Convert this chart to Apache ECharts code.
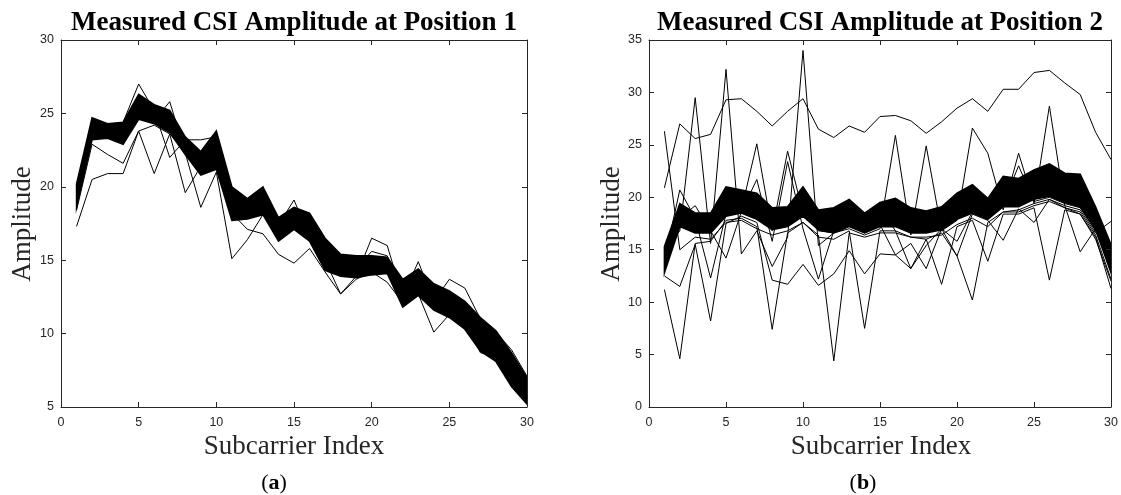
<!DOCTYPE html>
<html><head><meta charset="utf-8">
<script src="https://cdn.jsdelivr.net/npm/echarts@6/dist/echarts.min.js"></script>
<style>html,body{margin:0;padding:0;background:#fff}#c{width:1121px;height:495px}</style>
</head><body><div id="c"></div>
<script>
const subcarrier = [1,2,3,4,5,6,7,8,9,10,11,12,13,14,15,16,17,18,19,20,21,22,23,24,25,26,27,28,29,30];

// Position 1: envelope of the dense bundle of measurements
const pos1BandHigh = [20.2,24.7,24.3,24.4,26.3,25.6,25.2,23.4,22.4,23.8,20.0,19.2,20.0,17.9,18.6,18.2,16.5,15.4,15.3,15.3,15.2,13.7,14.4,13.4,12.9,12.2,11.1,10.2,8.7,7.0];
const pos1BandLow  = [18.6,23.2,23.3,22.9,24.6,24.3,23.7,22.2,20.8,21.2,17.7,17.8,18.1,16.3,17.1,16.3,14.3,13.9,13.8,14.0,14.1,11.8,12.6,11.6,11.1,10.3,8.8,8.1,6.4,5.2];
// Position 1: individual deviating measurements
const pos1LineA = [17.3,20.5,20.9,20.9,23.8,24.2,23.6,22.5,21.2,21.6,18.0,17.9,18.3,16.5,17.3,16.4,14.5,14.0,14.0,14.2,14.3,12.0,12.7,11.7,11.2,10.4,8.9,8.2,6.5,5.3];
const pos1LineB = [18.4,22.9,22.2,21.6,23.8,20.9,23.6,19.6,21.4,21.3,18.2,17.1,16.8,15.4,14.8,15.8,14.2,12.7,13.7,14.2,13.5,12.1,12.7,10.1,11.3,10.5,9.0,8.2,6.6,5.4];
const pos1LineC = [19.6,24.0,23.9,24.4,27.0,25.2,22.0,23.2,23.2,23.4,19.6,18.6,19.0,17.4,19.1,16.6,15.0,12.7,13.9,16.5,16.0,12.5,14.9,12.2,13.7,13.1,11.0,10.1,8.9,7.1];
const pos1LineD = [19.0,23.6,23.5,23.0,24.8,24.5,25.8,22.3,18.6,21.0,15.1,16.4,18.1,17.5,17.8,16.6,15.5,14.5,14.4,15.6,15.3,13.0,13.3,12.4,11.8,11.0,8.7,8.4,7.0,5.7];

// Position 2: envelope of the dense bundle of measurements
const pos2BandHigh = [15.3,19.4,18.5,18.5,21.0,20.7,20.4,19.0,19.1,21.0,18.8,19.0,19.8,18.5,19.5,19.9,19.0,18.7,19.1,20.4,21.2,19.9,22.0,21.8,22.6,23.2,22.3,22.2,19.1,15.5];
const pos2BandLow  = [12.8,17.2,16.6,16.6,18.2,18.5,17.9,16.9,17.2,18.2,16.9,16.6,17.2,16.6,17.2,17.2,16.6,16.6,16.9,17.9,18.5,17.9,19.1,19.1,19.8,20.1,19.5,19.1,16.9,12.8];
// Position 2: individual deviating measurements
const pos2LineA = [20.9,27.0,25.6,26.0,29.3,29.4,28.2,26.8,28.2,29.4,26.5,25.7,26.8,26.2,27.7,27.8,27.3,26.1,27.2,28.5,29.4,28.2,30.3,30.3,31.9,32.1,30.9,29.8,26.2,23.6];
const pos2LineB = [26.3,15.0,16.2,16.0,17.6,17.8,17.0,16.4,16.8,17.6,16.4,4.4,16.6,16.2,16.6,16.6,16.2,16.2,16.4,17.4,18.0,17.2,18.6,18.6,19.2,19.6,19.0,18.6,16.4,12.2];
const pos2LineC = [11.2,4.6,15.6,15.8,17.8,18.0,17.2,7.4,16.6,17.6,16.2,16.0,16.8,7.5,16.8,16.8,16.2,16.0,11.7,17.2,17.8,13.9,18.4,18.4,19.0,12.1,18.8,18.4,16.2,11.3];
const pos2LineD = [12.5,11.5,15.5,8.2,17.5,18.2,17.6,12.1,11.7,13.6,11.6,12.7,14.9,12.7,14.6,14.5,13.2,16.0,16.6,14.4,10.2,17.6,18.6,18.8,19.4,19.8,19.0,18.4,16.0,12.0];
const pos2LineE = [15.0,16.8,29.5,15.6,32.2,14.6,16.8,13.4,16.2,34.0,15.4,16.6,17.0,16.4,17.0,25.9,16.4,24.9,16.8,17.8,26.6,24.2,18.8,24.2,19.4,28.7,19.2,18.8,16.6,17.7];
const pos2LineF = [14.0,20.7,18.0,12.3,18.4,18.8,25.1,16.8,24.4,18.5,16.8,16.6,17.4,16.6,19.1,16.8,13.2,15.4,17.0,15.8,18.6,18.0,19.4,23.0,19.6,20.0,19.4,19.0,16.8,13.2];
const pos2LineG = [13.2,18.0,19.2,16.8,14.2,18.6,21.7,15.8,23.4,17.0,12.2,16.8,17.4,16.8,17.4,14.5,15.6,13.2,17.0,14.4,18.4,17.8,15.9,18.9,17.6,19.8,19.2,14.8,17.0,13.0];

const titles = ['Measured CSI Amplitude at Position 1', 'Measured CSI Amplitude at Position 2'];
const xName = 'Subcarrier Index';
const yName = 'Amplitude';
const panelTags = ['a', 'b'];

const pairs = (ys) => subcarrier.map((x, i) => [x, ys[i]]);

const axisColor = '#262626';
const labelFont = { fontFamily: 'Liberation Sans, Arial, sans-serif', fontSize: 12.5, color: axisColor };

function xAxes(grid) {
  return [
    { gridIndex: grid, type: 'value', position: 'bottom', min: 0, max: 30, interval: 5, z: 5,
      axisLine: { onZero: false, lineStyle: { color: axisColor, width: 1 } },
      axisTick: { inside: true, length: 5, lineStyle: { color: axisColor } },
      axisLabel: Object.assign({ margin: 9 }, labelFont), splitLine: { show: false } },
    { gridIndex: grid, type: 'value', position: 'top', min: 0, max: 30, interval: 5, z: 5,
      axisLine: { onZero: false, lineStyle: { color: axisColor, width: 1 } },
      axisTick: { inside: true, length: 5, lineStyle: { color: axisColor } },
      axisLabel: { show: false }, splitLine: { show: false } }
  ];
}
function yAxes(grid, min, max) {
  return [
    { gridIndex: grid, type: 'value', position: 'left', min: min, max: max, interval: 5, z: 5,
      axisLine: { show: true, onZero: false, lineStyle: { color: axisColor, width: 1 } },
      axisTick: { show: true, inside: true, length: 5, lineStyle: { color: axisColor } },
      axisLabel: Object.assign({ margin: 7 }, labelFont), splitLine: { show: false } },
    { gridIndex: grid, type: 'value', position: 'right', min: min, max: max, interval: 5, z: 5,
      axisLine: { show: true, onZero: false, lineStyle: { color: axisColor, width: 1 } },
      axisTick: { show: true, inside: true, length: 5, lineStyle: { color: axisColor } },
      axisLabel: { show: false }, splitLine: { show: false } }
  ];
}

function line(ys, xi, yi) {
  return { type: 'line', data: pairs(ys), xAxisIndex: xi, yAxisIndex: yi,
    symbol: 'none', silent: true, lineStyle: { color: '#000', width: 1 } };
}
// Dense bundle drawn as a filled region between its upper and lower envelopes
function band(hi, lo, xi, yi) {
  return {
    type: 'custom', xAxisIndex: xi, yAxisIndex: yi, silent: true, clip: true,
    data: [[subcarrier[0], hi[0]]],
    renderItem: function (params, api) {
      const top = subcarrier.map((x, i) => api.coord([x, hi[i]]));
      const bot = subcarrier.map((x, i) => api.coord([x, lo[i]])).reverse();
      return { type: 'polygon', shape: { points: top.concat(bot) },
        style: { fill: '#000', stroke: '#000', lineWidth: 1.5, lineJoin: 'miter' } };
    }
  };
}

const series = [].concat(
  [band(pos1BandHigh, pos1BandLow, 0, 0)],
  [pos1LineA, pos1LineB, pos1LineC, pos1LineD].map(d => line(d, 0, 0)),
  [band(pos2BandHigh, pos2BandLow, 2, 2)],
  [pos2LineA, pos2LineB, pos2LineC, pos2LineD, pos2LineE, pos2LineF, pos2LineG].map(d => line(d, 2, 2))
);

const serif = 'Liberation Serif, Times New Roman, serif';
function txt(x, y, text, size, weight, color, rot) {
  return { type: 'text', x: x, y: y, rotation: rot || 0, silent: true,
    style: { text: text, fill: color, font: weight + ' ' + size + 'px ' + serif, align: 'center', verticalAlign: 'middle' } };
}
function tag(x, y, t) {
  return { type: 'text', x: x, y: y, silent: true,
    style: { text: '{r|(}{b|' + t + '}{r|)}', align: 'center', verticalAlign: 'middle',
      rich: { r: { fontFamily: serif, fontSize: 22, fill: '#000', color: '#000' },
              b: { fontFamily: serif, fontSize: 22, fontWeight: 'bold', fill: '#000', color: '#000' } } } };
}

const chart = echarts.init(document.getElementById('c'), null, { renderer: 'canvas' });
chart.setOption({
  animation: false,
  backgroundColor: '#fff',
  grid: [
    { left: 61, top: 40, width: 466, height: 367 },
    { left: 649, top: 40, width: 462, height: 367 }
  ],
  xAxis: xAxes(0).concat(xAxes(1)),
  yAxis: yAxes(0, 5, 30).concat(yAxes(1, 0, 35)),
  series: series,
  graphic: [
    txt(294, 23, titles[0], 27, 'bold', '#000'),
    txt(880, 23, titles[1], 27, 'bold', '#000'),
    txt(294, 447, xName, 27, 'normal', axisColor),
    txt(881, 447, xName, 27, 'normal', axisColor),
    txt(23, 224, yName, 27, 'normal', axisColor, Math.PI / 2),
    txt(612, 224, yName, 27, 'normal', axisColor, Math.PI / 2),
    tag(274, 483, panelTags[0]),
    tag(863, 483, panelTags[1])
  ]
});
</script></body></html>
